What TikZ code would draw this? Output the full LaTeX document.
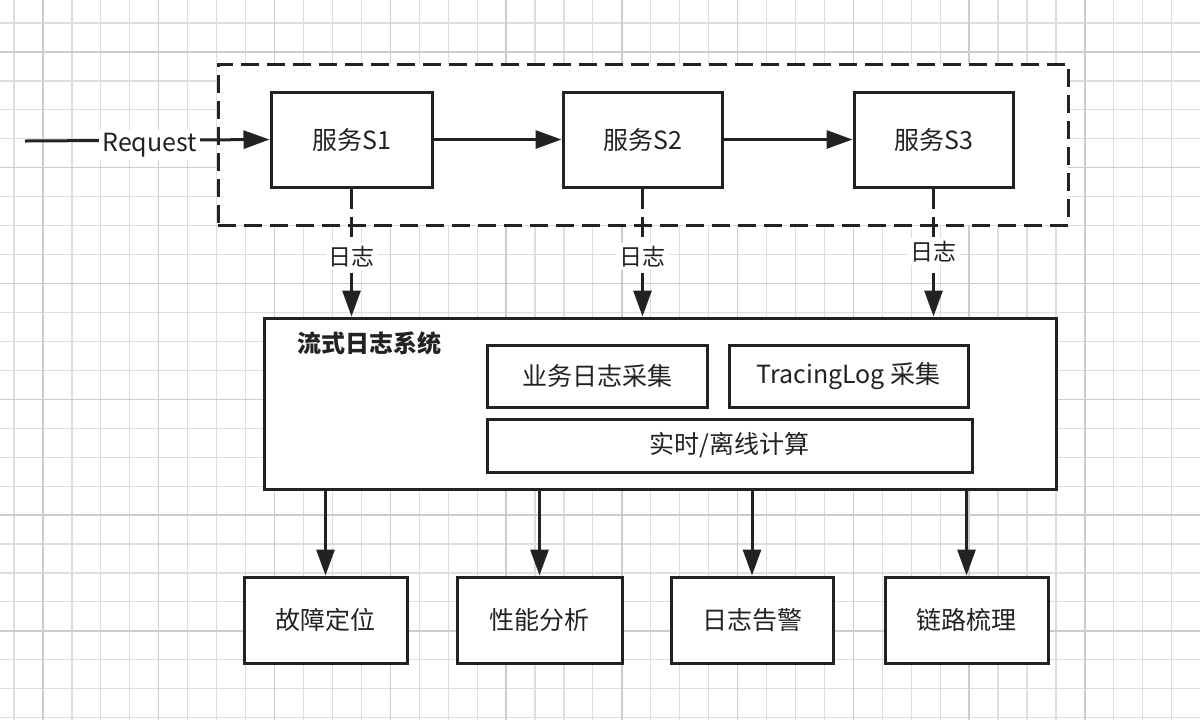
\documentclass[tikz,border=0pt]{standalone}
\usepackage{fontspec}
\setmainfont{Noto Sans CJK SC}
\usetikzlibrary{arrows.meta}
\definecolor{ink}{HTML}{222222}
\definecolor{gridminor}{HTML}{DEDEDE}
\definecolor{gridmajor}{HTML}{CDCDCD}
\tikzset{
  minorline/.style={draw=gridminor, line width=0.6pt},
  majorline/.style={draw=gridmajor, line width=0.7pt},
  box/.style={draw=ink, line width=1.5pt, fill=white, inner sep=0pt, text=ink,
    font=\fontsize{12.5pt}{15pt}\selectfont},
  arr/.style={draw=ink, line width=1.5pt, -{Triangle[length=13pt,width=9pt]}},
  darr/.style={arr, dash pattern=on 10pt off 4pt},
  lbl/.style={fill=white, inner sep=1.5pt, text=ink, font=\fontsize{11.5pt}{14pt}\selectfont},
}
\begin{document}
\begin{tikzpicture}[x=0.5pt,y=-0.5pt]
\useasboundingbox (0,0) rectangle (1200,720);
\fill[white] (0,0) rectangle (1200,720);
% grid
\foreach \k in {-1,...,39} {
  \pgfmathsetmacro\xx{43+\k*28.94}
  \draw[minorline] (\xx,0) -- (\xx,720);
}
\foreach \k in {-1,...,23} {
  \pgfmathsetmacro\yy{52+\k*28.94}
  \draw[minorline] (0,\yy) -- (1200,\yy);
}
\foreach \k in {0,4,...,36} {
  \pgfmathsetmacro\xx{43+\k*28.94}
  \draw[majorline] (\xx,0) -- (\xx,720);
}
\foreach \k in {0,4,...,20} {
  \pgfmathsetmacro\yy{52+\k*28.94}
  \draw[majorline] (0,\yy) -- (1200,\yy);
}
% dashed group
\node[draw=ink, line width=1.5pt, fill=white, dash pattern=on 9pt off 4pt,
  minimum width=425pt, minimum height=80.5pt] (grp) at (643,144.5) {};
% services
\node[box, minimum width=80.5pt, minimum height=47.5pt] (s1) at (351.5,139.5) {服务S1};
\node[box, minimum width=79.5pt, minimum height=47.5pt] (s2) at (642.5,139.5) {服务S2};
\node[box, minimum width=79.5pt, minimum height=47.5pt] (s3) at (933.5,139.5) {服务S3};
\coordinate (req) at (25,141);
\draw[arr] (req) -- node[lbl, fill=white, font=\fontsize{12.5pt}{14pt}\selectfont, pos=0.51, yshift=-2.5pt] {Request} (s1.west);
\draw[arr] (s1) -- (s2);
\draw[arr] (s2) -- (s3);
% main system
\node[box, minimum width=396pt, minimum height=85.5pt] (main) at (660,403.5) {};
\node[anchor=west, text=ink, inner sep=0pt, font=\fontsize{12pt}{14pt}\selectfont\bfseries] (title) at (297,343) {流式日志系统};
\node[box, minimum width=110pt, minimum height=31pt] (biz) at (597,376) {业务日志采集};
\node[box, minimum width=119.5pt, minimum height=31pt] (trace) at (848.5,376) {TracingLog 采集};
\node[box, minimum width=242.5pt, minimum height=26.5pt] (comp) at (729.5,445.5) {实时/离线计算};
% log arrows
\draw[darr] (s1.south) -- node[lbl, pos=0.53] {日志} (s1.south |- main.north);
\draw[darr] (s2.south) -- node[lbl, pos=0.53] {日志} (s2.south |- main.north);
\draw[darr] (s3.south) -- node[lbl, pos=0.49] {日志} (s3.south |- main.north);
% outputs
\node[box, minimum width=81.5pt, minimum height=43pt] (b1) at (325.5,620) {故障定位};
\node[box, minimum width=82.5pt, minimum height=43pt] (b2) at (539.5,620) {性能分析};
\node[box, minimum width=81pt, minimum height=43pt] (b3) at (752,620) {日志告警};
\node[box, minimum width=81.5pt, minimum height=43pt] (b4) at (966.5,620) {链路梳理};
\draw[arr] (b1.north |- main.south) -- (b1.north);
\draw[arr] (b2.north |- main.south) -- (b2.north);
\draw[arr] (b3.north |- main.south) -- (b3.north);
\draw[arr] (b4.north |- main.south) -- (b4.north);
\end{tikzpicture}
\end{document}
